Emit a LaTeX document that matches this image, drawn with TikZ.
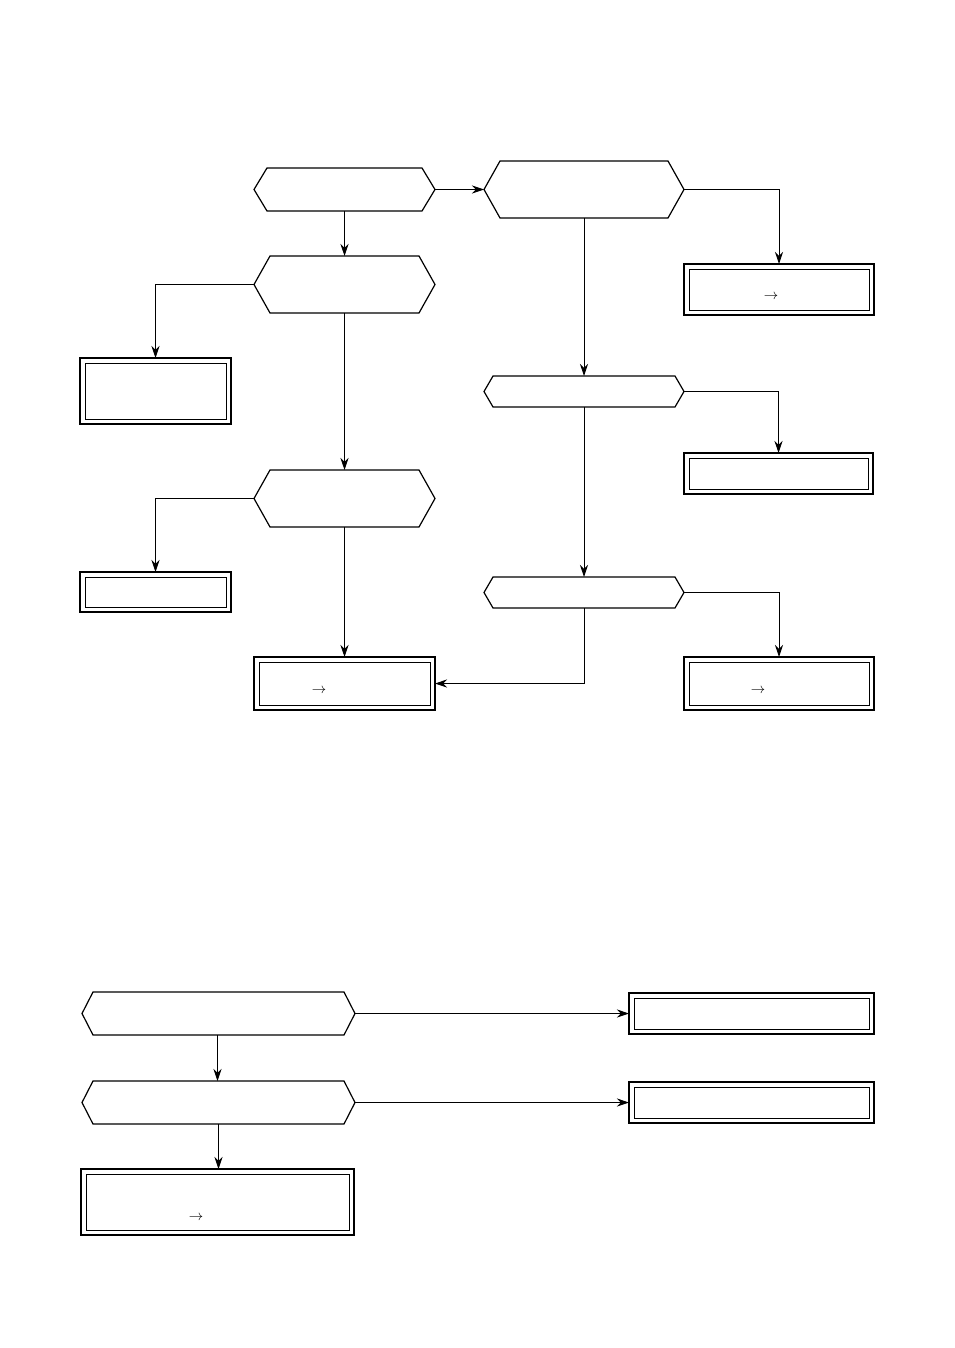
\documentclass[tikz,border=0pt]{standalone}
\usetikzlibrary{arrows.meta}
\tikzset{
  anchorbox/.style={inner sep=0pt, outer sep=0pt, minimum width=#1},
  hexline/.style={line width=1.2pt, line join=miter},
  conn/.style={line width=0.9pt, -{Stealth[length=12pt,width=8pt]}},
  dbox/.style={draw, line width=1.6pt, inner sep=0pt, outer sep=0pt,
    path picture={\draw[line width=0.8pt] ([xshift=5pt,yshift=-5pt]path picture bounding box.north west) rectangle ([xshift=-5pt,yshift=5pt]path picture bounding box.south east);}},
  arrtxt/.style={inner sep=0pt, font=\Large}
}
\newcommand{\hexdraw}[2]{%
  \draw[hexline] (#1.west) -- ([xshift=#2]#1.north west) -- ([xshift=-#2]#1.north east) -- (#1.east) -- ([xshift=-#2]#1.south east) -- ([xshift=#2]#1.south west) -- cycle;}
\begin{document}
\begin{tikzpicture}[x=1pt,y=-1pt]
\useasboundingbox[fill=white] (0,0) rectangle (954,1348);

% hexagons (decisions)
\node[anchorbox=181pt, minimum height=43pt] (h1) at (344.5,189.5) {};
\node[anchorbox=200pt, minimum height=57pt] (h2) at (584,189.5) {};
\node[anchorbox=181pt, minimum height=57pt] (h3) at (344.5,284.5) {};
\node[anchorbox=181pt, minimum height=57pt] (h4) at (344.5,498.5) {};
\node[anchorbox=200pt, minimum height=31pt] (h5) at (584,391.5) {};
\node[anchorbox=200pt, minimum height=31pt] (h6) at (584,592.5) {};
\node[anchorbox=273pt, minimum height=43pt] (h7) at (218.5,1013.5) {};
\node[anchorbox=273pt, minimum height=43pt] (h8) at (218.5,1102.5) {};
\hexdraw{h1}{13pt}
\hexdraw{h2}{16pt}
\hexdraw{h3}{16pt}
\hexdraw{h4}{16pt}
\hexdraw{h5}{9pt}
\hexdraw{h6}{9pt}
\hexdraw{h7}{11pt}
\hexdraw{h8}{11pt}

% double boxes (results)
\node[dbox, minimum width=190pt, minimum height=51pt] (r1) at (779,289.5) {};
\node[dbox, minimum width=151pt, minimum height=66pt] (r2) at (155.5,391) {};
\node[dbox, minimum width=189pt, minimum height=41pt] (r3) at (778.5,473.5) {};
\node[dbox, minimum width=151pt, minimum height=40pt] (r4) at (155.5,592) {};
\node[dbox, minimum width=181pt, minimum height=53pt] (r5) at (344.5,683.5) {};
\node[dbox, minimum width=190pt, minimum height=53pt] (r6) at (779,683.5) {};
\node[dbox, minimum width=245pt, minimum height=41pt] (r7) at (751.5,1013.5) {};
\node[dbox, minimum width=245pt, minimum height=41pt] (r8) at (751.5,1102.5) {};
\node[dbox, minimum width=273pt, minimum height=66pt] (r9) at (217.5,1202) {};

% arrow glyphs inside boxes
\node[arrtxt] (t1) at (771,297) {$\rightarrow$};
\node[arrtxt] (t5) at (319,691) {$\rightarrow$};
\node[arrtxt] (t6) at (758,691) {$\rightarrow$};
\node[arrtxt] (t9) at (196,1218) {$\rightarrow$};

% connectors
\draw[conn] (h1.east) -- (h2.west);
\draw[conn] (h1.south) -- (h3.north);
\draw[conn] (h3.west) -| (r2.north);
\draw[conn] (h3.south) -- (h4.north);
\draw[conn] (h4.west) -| (r4.north);
\draw[conn] (h4.south) -- (r5.north);
\draw[conn] (h2.east) -| (r1.north);
\draw[conn] (h2.south) -- (h5.north);
\draw[conn] (h5.east) -| (r3.north);
\draw[conn] (h5.south) -- (h6.north);
\draw[conn] (h6.east) -| (r6.north);
\draw[conn] (h6.south) |- (r5.east);
\draw[conn] (h7.east) -- (r7.west);
\draw[conn] ([xshift=-1pt]h7.south) -- ([xshift=-1pt]h8.north);
\draw[conn] (h8.east) -- (r8.west);
\draw[conn] (h8.south) -- (h8.south |- r9.north);
\end{tikzpicture}
\end{document}
